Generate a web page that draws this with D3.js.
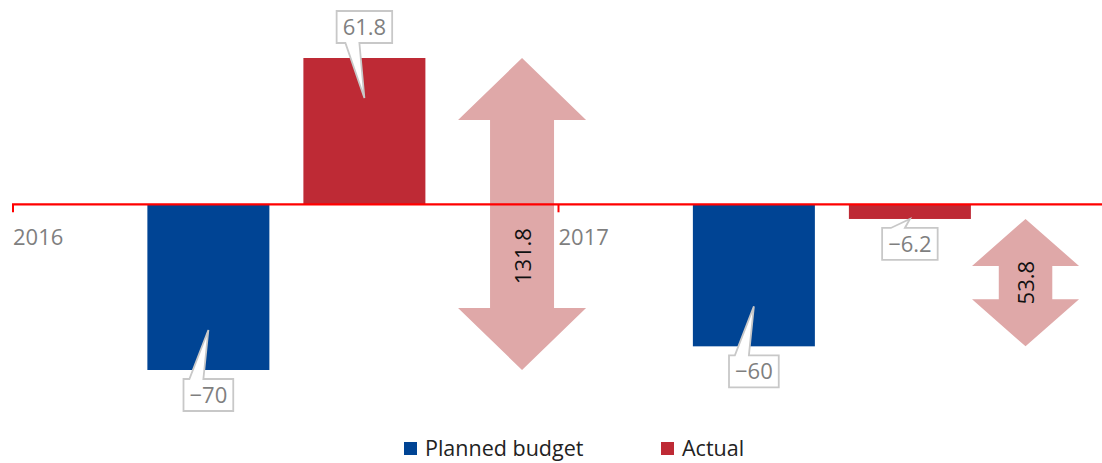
<!DOCTYPE html>
<html lang="en">
<head>
    <meta charset="utf-8" />
    <title>Planned budget vs actual</title>
    <script src="https://d3js.org/d3.v7.min.js"></script>
    <style>
        body { margin: 0; background: #fff; }
        text { font-family: "Open Sans", "Noto Sans", sans-serif; }
    </style>
</head>
<body>
    <div id="chart"></div>
    <script>
        // data
        const categories = ["2016", "2017"];
        const planned = [-70, -60];
        const actual = [61.8, -6.2];
        const seriesNames = ["Planned budget", "Actual"];

        // layout
        const W = 1102, H = 463;
        const colors = ["#004494", "#be2a35"];
        const arrowColor = "#dfa8a8";
        const barW = 122;
        const slotFrac = [0.36, 0.646];        // bar centres inside a category band
        const arrowFrac = [0.935, 0.858];      // arrow centres inside a category band
        const arrowWidth = [128, 107];
        const arrowHead = [62, 47];

        const svg = d3.select("#chart")
            .append("svg")
            .attr("width", W)
            .attr("height", H);

        const x = d3.scaleBand()
            .domain(categories)
            .range([12, 1103])
            .padding(0);

        const y = d3.scaleLinear()
            .domain([-70, 61.8])
            .range([370, 58]);

        const fmt = d3.format("~g");
        const fmtGap = d3.format(".1f");

        // bars
        const bars = [];
        categories.forEach((c, i) => {
            [planned[i], actual[i]].forEach((v, s) => {
                bars.push({ cat: c, s: s, v: v, cx: x(c) + x.bandwidth() * slotFrac[s] });
            });
        });

        svg.selectAll(".bar")
            .data(bars)
            .enter().append("rect")
            .attr("class", "bar")
            .attr("x", d => d.cx - barW / 2)
            .attr("y", d => Math.min(y(d.v), y(0)))
            .attr("width", barW)
            .attr("height", d => Math.abs(y(d.v) - y(0)))
            .attr("fill", d => colors[d.s]);

        // gap arrows
        categories.forEach((c, i) => {
            const cx = x(c) + x.bandwidth() * arrowFrac[i];
            const top = y(Math.max(planned[i], actual[i]));
            const bot = y(Math.min(planned[i], actual[i]));
            const hw = arrowWidth[i] / 2, sw = hw / 2, hh = arrowHead[i];
            const pts = [
                [cx, top], [cx + hw, top + hh], [cx + sw, top + hh], [cx + sw, bot - hh],
                [cx + hw, bot - hh], [cx, bot], [cx - hw, bot - hh], [cx - sw, bot - hh],
                [cx - sw, top + hh], [cx - hw, top + hh]
            ];
            svg.append("path")
                .attr("d", "M" + pts.join("L") + "Z")
                .attr("fill", arrowColor);

            // label centred on the part of the shaft below the axis
            const s0 = Math.max(top + hh, y(0)), s1 = bot - hh;
            const ly = (s0 + s1) / 2;
            svg.append("text")
                .attr("transform", `translate(${cx + 1},${ly}) rotate(-90)`)
                .attr("text-anchor", "middle")
                .attr("dy", "0.35em")
                .attr("font-size", 22)
                .attr("fill", "#111")
                .text(fmtGap(Math.abs(actual[i] - planned[i])));
        });

        // axis line with ticks at category starts
        const axisY = y(0);
        svg.append("line")
            .attr("x1", 12).attr("x2", W)
            .attr("y1", axisY).attr("y2", axisY)
            .attr("stroke", "#ff0000")
            .attr("stroke-width", 2.2);

        categories.forEach(c => {
            svg.append("line")
                .attr("x1", x(c) + 1).attr("x2", x(c) + 1)
                .attr("y1", axisY).attr("y2", axisY + 8)
                .attr("stroke", "#ff0000")
                .attr("stroke-width", 2);
            svg.append("text")
                .attr("x", x(c) + 1)
                .attr("y", axisY + 33)
                .attr("dy", "0.35em")
                .attr("font-size", 22)
                .attr("fill", "#7f7f7f")
                .text(c);
        });

        // callout labels
        bars.forEach(d => {
            const yEnd = y(d.v);
            const len = Math.abs(yEnd - y(0));
            const inset = len > 60 ? 40 : 0;
            const pos = d.v > 0;
            const tipX = d.cx, tipY = pos ? yEnd + inset : yEnd - inset;

            const g = svg.append("g");
            const t = g.append("text")
                .attr("text-anchor", "middle")
                .attr("font-size", 22)
                .attr("fill", "#7f7f7f")
                .text(fmt(d.v));
            const tw = t.node().getComputedTextLength();
            const bw = tw + 12, bh = 32;
            const bx0 = d.cx - bw / 2, bx1 = d.cx + bw / 2;
            const by0 = pos ? yEnd - 15 - bh : yEnd + 9;
            const by1 = by0 + bh;
            const p0 = d.cx - 19, p1 = d.cx - 5;
            let path;
            if (pos) {
                path = `M${bx0},${by0}L${bx1},${by0}L${bx1},${by1}L${p1},${by1}L${tipX},${tipY}L${p0},${by1}L${bx0},${by1}Z`;
            } else {
                path = `M${bx0},${by0}L${p0},${by0}L${tipX},${tipY}L${p1},${by0}L${bx1},${by0}L${bx1},${by1}L${bx0},${by1}Z`;
            }
            g.insert("path", "text")
                .attr("d", path)
                .attr("fill", "#fff")
                .attr("stroke", "#c8c8c8")
                .attr("stroke-width", 1.8);
            t.attr("x", d.cx).attr("y", by0 + bh / 2).attr("dy", "0.36em");
        });

        // legend
        const legendX = [404, 661];
        seriesNames.forEach((n, s) => {
            svg.append("rect")
                .attr("x", legendX[s]).attr("y", 442)
                .attr("width", 13).attr("height", 13)
                .attr("fill", colors[s]);
            svg.append("text")
                .attr("x", legendX[s] + 21)
                .attr("y", 448)
                .attr("dy", "0.35em")
                .attr("font-size", 21.5)
                .attr("fill", "#222")
                .text(n);
        });
    </script>
</body>
</html>
